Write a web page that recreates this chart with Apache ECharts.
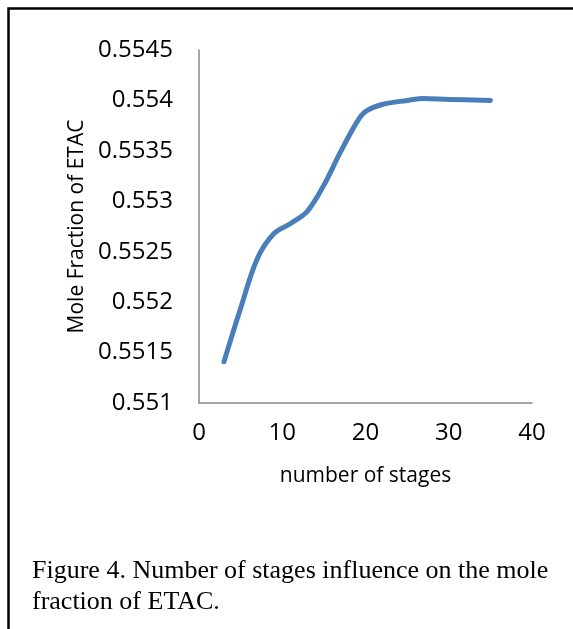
<!DOCTYPE html>
<html>
<head>
<meta charset="utf-8">
<script src="https://cdn.jsdelivr.net/npm/echarts@6/dist/echarts.min.js"></script>
<style>
html,body{margin:0;padding:0;background:#fff;}
#chart{width:573px;height:629px;}
</style>
</head>
<body>
<div id="chart"></div>
<script>
var stages = [3, 5, 7, 9, 11, 13, 15, 17, 19, 20, 22, 25, 27, 30, 35];
var moleFraction = [0.55141, 0.55194, 0.55243, 0.55268, 0.55278, 0.55290, 0.55316, 0.55349, 0.55379, 0.55389, 0.55396, 0.55400, 0.55402, 0.55401, 0.55400];
var xTicks = [0, 10, 20, 30, 40];
var yTicks = [0.551, 0.5515, 0.552, 0.5525, 0.553, 0.5535, 0.554, 0.5545];
var xTitle = 'number of stages';
var yTitle = 'Mole Fraction of ETAC';
var captionLines = ['Figure 4. Number of stages influence on the mole', 'fraction of ETAC.'];

var chart = echarts.init(document.getElementById('chart'), null, {renderer: 'canvas'});
var labelFont = 'Open Sans';
var option = {
  backgroundColor: '#ffffff',
  animation: false,
  grid: {left: 199, right: 41, top: 50, bottom: 226, containLabel: false},
  xAxis: {
    type: 'value',
    min: xTicks[0], max: xTicks[xTicks.length - 1], interval: 10,
    name: xTitle, nameLocation: 'middle', nameGap: 63,
    nameTextStyle: {fontFamily: labelFont, fontSize: 21, color: '#000'},
    axisLine: {show: true, lineStyle: {color: '#888888', width: 1.5}},
    axisTick: {show: false},
    splitLine: {show: false},
    axisLabel: {fontFamily: labelFont, fontSize: 24, color: '#000', margin: 18}
  },
  yAxis: {
    type: 'value',
    min: yTicks[0], max: yTicks[yTicks.length - 1], interval: 0.0005,
    name: yTitle, nameLocation: 'middle', nameGap: 108, nameRotate: 90,
    nameTextStyle: {fontFamily: labelFont, fontSize: 21, color: '#000'},
    axisLine: {show: true, onZero: false, lineStyle: {color: '#888888', width: 1.5}},
    axisTick: {show: false},
    splitLine: {show: false},
    axisLabel: {fontFamily: labelFont, fontSize: 24, color: '#000', margin: 26,
      formatter: function (v) { return String(parseFloat(v.toFixed(4))); }}
  },
  series: [{
    type: 'line',
    data: stages.map(function (s, i) { return [s, moleFraction[i]]; }),
    smooth: 0.35,
    showSymbol: false,
    lineStyle: {color: '#4a7ebb', width: 5, cap: 'round', join: 'round'}
  }],
  graphic: [
    {type: 'polyline', shape: {points: [[8.5, 629], [8.5, 8.5], [573, 8.5]]},
     style: {stroke: '#000', lineWidth: 2.5, fill: null}},
    {type: 'text', left: 32, top: 558,
     style: {text: captionLines[0], font: '26px "Liberation Serif"', fill: '#000'}},
    {type: 'text', left: 32, top: 589,
     style: {text: captionLines[1], font: '26px "Liberation Serif"', fill: '#000'}}
  ]
};
chart.setOption(option);
</script>
</body>
</html>
